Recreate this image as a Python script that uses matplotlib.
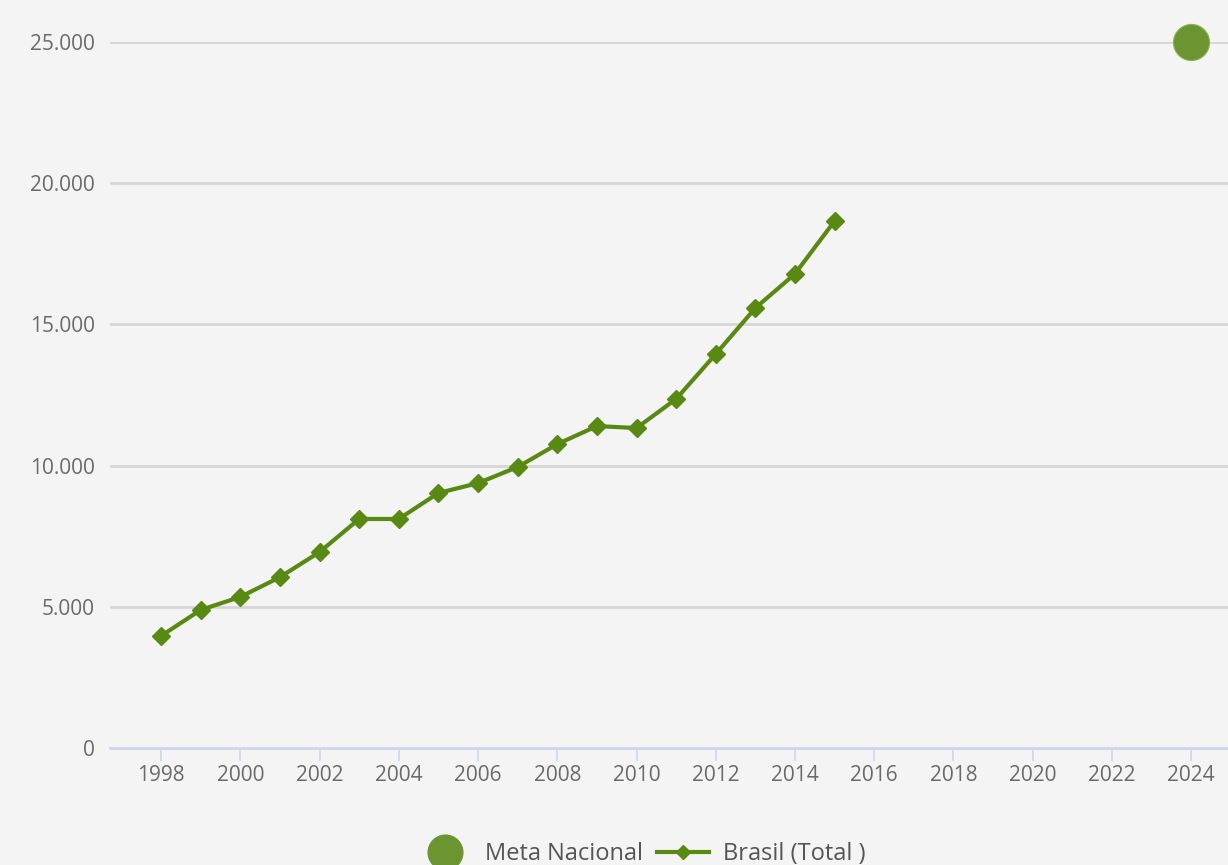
import matplotlib
matplotlib.use("Agg")
import matplotlib.pyplot as plt
from matplotlib.lines import Line2D

# Series values
years = [1998, 1999, 2000, 2001, 2002, 2003, 2004, 2005, 2006, 2007,
         2008, 2009, 2010, 2011, 2012, 2013, 2014, 2015]
brasil_total = [3970, 4890, 5350, 6050, 6940, 8110, 8110, 9030, 9380, 9950,
                10760, 11400, 11330, 12360, 13950, 15580, 16790, 18660]
meta_year = [2024]
meta_value = [25000]

x_ticks = list(range(1998, 2025, 2))
y_ticks = [0, 5000, 10000, 15000, 20000, 25000]
y_labels = ["0", "5.000", "10.000", "15.000", "20.000", "25.000"]

plt.rcParams['font.family'] = ['Open Sans', 'DejaVu Sans']

BG = "#f4f4f4"
LINE = "#588a13"
DOT = "#6b9530"

W, H = 1228, 865
fig = plt.figure(figsize=(W / 100, H / 100), dpi=100, facecolor=BG)
ax = fig.add_axes([110 / W, 1 - 748 / H, 1 - 110 / W, (748 - 42) / H])
ax.set_facecolor(BG)

ax.set_xlim(1996.71, 2024.93)
ax.set_ylim(0, 25000)

for s in ["top", "right", "left"]:
    ax.spines[s].set_visible(False)
ax.spines["bottom"].set_color("#ccd6eb")
ax.spines["bottom"].set_linewidth(2)

ax.set_yticks(y_ticks)
ax.set_yticklabels(y_labels)
ax.set_xticks(x_ticks)
ax.set_xticklabels([str(y) for y in x_ticks])
ax.tick_params(axis="y", length=0, pad=11, labelsize=15, labelcolor="#6a6a6a")
ax.tick_params(axis="x", length=9, width=1.2, color="#ccd6eb", pad=3,
               labelsize=15, labelcolor="#6a6a6a")

for v in y_ticks[1:]:
    ax.axhline(v, color="#d6d6d6", lw=2, zorder=1)

ax.plot(years, brasil_total, color=LINE, lw=3, marker="D", markersize=9,
        zorder=3, clip_on=False)
ax.plot(meta_year, meta_value, linestyle="none", marker="o", markersize=26,
        color=DOT, markeredgecolor="#8fb34f", markeredgewidth=0.8,
        zorder=4, clip_on=False)

handles = [
    Line2D([], [], linestyle="none", marker="o", markersize=25, color=DOT),
    Line2D([], [], color=LINE, lw=3, marker="D", markersize=7),
]
leg = fig.legend(handles, ["Meta Nacional", "Brasil (Total )"], ncol=2,
                 loc="center", bbox_to_anchor=(642 / W, 1 - 854 / H),
                 frameon=False, fontsize=17, handlelength=2.2,
                 columnspacing=0.6, handletextpad=0.6)
for t in leg.get_texts():
    t.set_color("#555555")

fig.savefig("out.png", dpi=100, facecolor=BG)
